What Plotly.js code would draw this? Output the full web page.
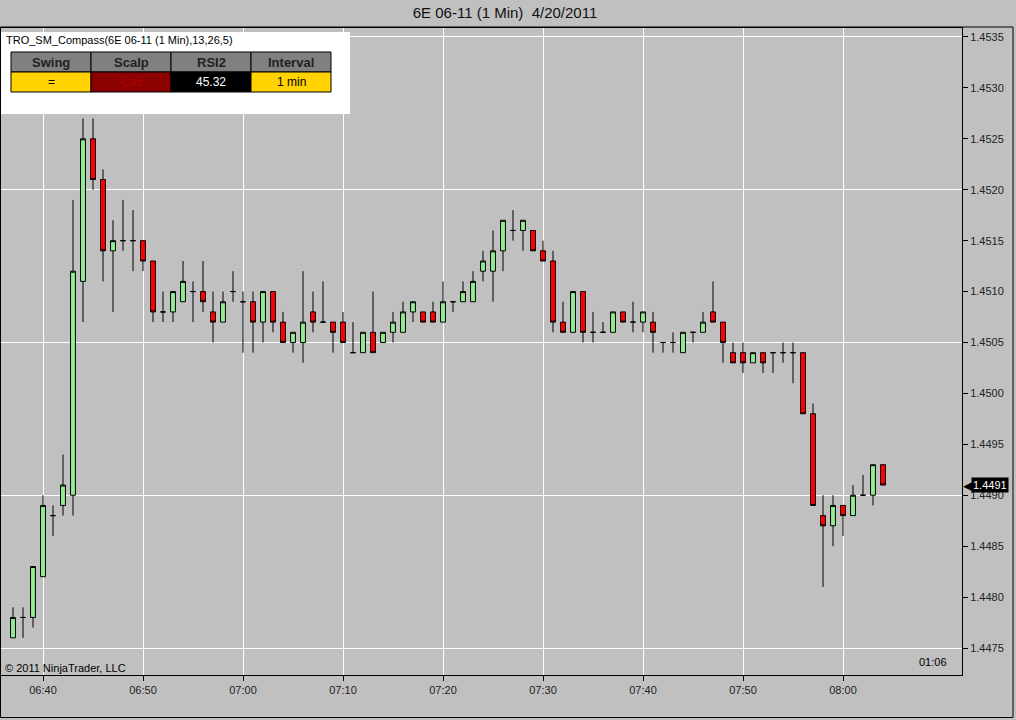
<!DOCTYPE html>
<html>
<head>
<meta charset="utf-8">
<script src="https://cdn.plot.ly/plotly-3.0.1.min.js"></script>
<style>
html,body{margin:0;padding:0;background:#c0c0c0;}
#chart{width:1016px;height:720px;}
</style>
</head>
<body>
<div id="chart"></div>
<script>
// ---- data (6E 06-11, 1 Min, 4/20/2011) ----
const times = [
 "06:37","06:38","06:39","06:40","06:41","06:42","06:43","06:44","06:45","06:46",
 "06:47","06:48","06:49","06:50","06:51","06:52","06:53","06:54","06:55","06:56",
 "06:57","06:58","06:59","07:00","07:01","07:02","07:03","07:04","07:05","07:06",
 "07:07","07:08","07:09","07:10","07:11","07:12","07:13","07:14","07:15","07:16",
 "07:17","07:18","07:19","07:20","07:21","07:22","07:23","07:24","07:25","07:26",
 "07:27","07:28","07:29","07:30","07:31","07:32","07:33","07:34","07:35","07:36",
 "07:37","07:38","07:39","07:40","07:41","07:42","07:43","07:44","07:45","07:46",
 "07:47","07:48","07:49","07:50","07:51","07:52","07:53","07:54","07:55","07:56",
 "07:57","07:58","07:59","08:00","08:01","08:02","08:03","08:04"];
const openP = [
 1.4476,1.4478,1.4478,1.4482,1.4488,1.4489,1.4490,1.4511,1.4525,1.4521,
 1.4514,1.4515,1.4515,1.4515,1.4513,1.4508,1.4508,1.4509,1.4510,1.4510,
 1.4508,1.4507,1.4510,1.4509,1.4509,1.4507,1.4510,1.4507,1.4505,1.4505,
 1.4508,1.4507,1.4507,1.4507,1.4504,1.4504,1.4506,1.4505,1.4506,1.4506,
 1.4508,1.4508,1.4508,1.4507,1.4509,1.4509,1.4509,1.4512,1.4512,1.4514,
 1.4516,1.4516,1.4516,1.4514,1.4513,1.4507,1.4506,1.4510,1.4506,1.4506,
 1.4506,1.4508,1.4507,1.4507,1.4507,1.4505,1.4505,1.4504,1.4506,1.4506,
 1.4508,1.4507,1.4504,1.4504,1.4503,1.4504,1.4504,1.4504,1.4504,1.4504,
 1.4498,1.4488,1.4487,1.4489,1.4488,1.4490,1.4490,1.4493];
const highP = [
 1.4479,1.4479,1.4483,1.4490,1.4489,1.4494,1.4519,1.4527,1.4527,1.4522,
 1.4517,1.4519,1.4518,1.4515,1.4513,1.4510,1.4510,1.4513,1.4511,1.4513,
 1.4510,1.4510,1.4512,1.4510,1.4510,1.4510,1.4510,1.4508,1.4506,1.4512,
 1.4510,1.4511,1.4507,1.4508,1.4507,1.4506,1.4510,1.4506,1.4508,1.4509,
 1.4509,1.4508,1.4509,1.4511,1.4509,1.4511,1.4512,1.4514,1.4516,1.4517,
 1.4518,1.4517,1.4516,1.4515,1.4514,1.4509,1.4510,1.4510,1.4508,1.4507,
 1.4508,1.4508,1.4509,1.4508,1.4508,1.4505,1.4506,1.4506,1.4506,1.4508,
 1.4511,1.4507,1.4505,1.4505,1.4504,1.4504,1.4504,1.4505,1.4505,1.4504,
 1.4499,1.4490,1.4490,1.4489,1.4491,1.4492,1.4493,1.4493];
const lowP = [
 1.4476,1.4476,1.4477,1.4482,1.4486,1.4488,1.4488,1.4507,1.4520,1.4511,
 1.4508,1.4514,1.4512,1.4512,1.4507,1.4507,1.4507,1.4509,1.4507,1.4508,
 1.4505,1.4507,1.4509,1.4504,1.4504,1.4505,1.4506,1.4505,1.4504,1.4503,
 1.4506,1.4507,1.4504,1.4505,1.4504,1.4504,1.4504,1.4505,1.4505,1.4506,
 1.4507,1.4507,1.4507,1.4507,1.4508,1.4509,1.4509,1.4511,1.4509,1.4512,
 1.4515,1.4514,1.4514,1.4513,1.4506,1.4506,1.4506,1.4505,1.4505,1.4506,
 1.4506,1.4507,1.4506,1.4506,1.4504,1.4504,1.4504,1.4504,1.4505,1.4506,
 1.4507,1.4503,1.4503,1.4502,1.4503,1.4502,1.4502,1.4503,1.4501,1.4498,
 1.4489,1.4481,1.4485,1.4486,1.4488,1.4490,1.4489,1.4491];
const closeP = [
 1.4478,1.4478,1.4483,1.4489,1.4488,1.4491,1.4512,1.4525,1.4521,1.4514,
 1.4515,1.4515,1.4515,1.4513,1.4508,1.4508,1.4510,1.4511,1.4510,1.4509,
 1.4507,1.4509,1.4510,1.4509,1.4507,1.4510,1.4507,1.4505,1.4506,1.4507,
 1.4507,1.4507,1.4506,1.4505,1.4504,1.4506,1.4504,1.4506,1.4507,1.4508,
 1.4509,1.4507,1.4507,1.4509,1.4509,1.4510,1.4511,1.4513,1.4514,1.4517,
 1.4516,1.4517,1.4514,1.4513,1.4507,1.4506,1.4510,1.4506,1.4506,1.4506,
 1.4508,1.4507,1.4507,1.4508,1.4506,1.4505,1.4505,1.4506,1.4506,1.4507,
 1.4507,1.4505,1.4503,1.4503,1.4504,1.4503,1.4504,1.4504,1.4504,1.4498,
 1.4489,1.4487,1.4489,1.4488,1.4490,1.4490,1.4493,1.4491];

const xTickTimes = ["06:40","06:50","07:00","07:10","07:20","07:30","07:40","07:50","08:00"];
const yTickStep = 0.0005;
const yGridStep = 0.0015;
const panelHeaders = ["Swing","Scalp","RSI2","Interval"];
const panelValues = ["=","-Cx5","45.32","1 min"];
const panelFill = ["#ffd200","#8b0000","#000000","#ffd200"];
const panelText = ["#000000","#b00000","#ffffff","#000000"];

// ---- layout helpers (pixel -> paper) ----
const L = 1, R = 962, T = 28, B = 675;
const px = x => (x - L) / (R - L);
const py = y => (B - y) / (B - T);

const day = "2011-04-20 ";
const xs = times.map(t => day + t);
const yRange = [1.447235, 1.453588];
const FONT = "Liberation Sans, Arial, sans-serif";

const candles = {
  type: "candlestick",
  x: xs, open: openP, high: highP, low: lowP, close: closeP,
  increasing: {line: {color: "#000000", width: 1}, fillcolor: "#90ee90"},
  decreasing: {line: {color: "#000000", width: 1}, fillcolor: "#ff0000"},
  whiskerwidth: 0,
  hoverinfo: "skip",
  showlegend: false
};
const axisCarrier = {
  type: "scatter", x: [xs[0]], y: [closeP[0]], yaxis: "y2",
  mode: "markers", marker: {opacity: 0}, hoverinfo: "skip", showlegend: false
};

const shapes = [];
const annotations = [];

// indicator panel
shapes.push({type: "rect", xref: "paper", yref: "paper", layer: "above",
  x0: px(0), x1: px(350), y0: py(114), y1: py(32),
  fillcolor: "#ffffff", line: {width: 0}});
annotations.push({xref: "paper", yref: "paper", x: px(4), y: py(40),
  xanchor: "left", yanchor: "middle", showarrow: false,
  text: "TRO_SM_Compass(6E 06-11 (1 Min),13,26,5)",
  font: {family: FONT, size: 11, color: "#000"}});
panelHeaders.forEach((h, i) => {
  const x0 = 11 + i * 80, x1 = x0 + 80;
  shapes.push({type: "rect", xref: "paper", yref: "paper", layer: "above",
    x0: px(x0), x1: px(x1), y0: py(72), y1: py(52),
    fillcolor: "#808080", line: {color: "#000", width: 1}});
  shapes.push({type: "rect", xref: "paper", yref: "paper", layer: "above",
    x0: px(x0), x1: px(x1), y0: py(92), y1: py(72),
    fillcolor: panelFill[i], line: {color: "#000", width: 1}});
  annotations.push({xref: "paper", yref: "paper", x: px((x0 + x1) / 2), y: py(62),
    xanchor: "center", yanchor: "middle", showarrow: false,
    text: "<b>" + h + "</b>", font: {family: FONT, size: 13, color: "#222"}});
  annotations.push({xref: "paper", yref: "paper", x: px((x0 + x1) / 2), y: py(82),
    xanchor: "center", yanchor: "middle", showarrow: false,
    text: panelValues[i], font: {family: FONT, size: 12, color: panelText[i]}});
});

// footer texts
annotations.push({xref: "paper", yref: "paper", x: px(3), y: py(668),
  xanchor: "left", yanchor: "middle", showarrow: false,
  text: "© 2011 NinjaTrader, LLC", font: {family: FONT, size: 11, color: "#000"}});
annotations.push({xref: "paper", yref: "paper", x: px(933), y: py(662),
  xanchor: "center", yanchor: "middle", showarrow: false,
  text: "01:06", font: {family: FONT, size: 11, color: "#000"}});

// last price tag
const last = closeP[closeP.length - 1];
annotations.push({xref: "paper", yref: "y", x: px(961), y: last,
  xanchor: "left", yanchor: "middle", showarrow: false,
  text: "◀", font: {family: "DejaVu Sans", size: 13, color: "#000"}});
annotations.push({xref: "paper", yref: "y", x: px(971), y: last,
  xanchor: "left", yanchor: "middle", showarrow: false,
  text: last.toFixed(4), bgcolor: "#000", borderpad: 1,
  font: {family: FONT, size: 11, color: "#fff"}});

// outer frame
shapes.push({type: "rect", xref: "paper", yref: "paper", layer: "above",
  x0: px(0.5), x1: px(1013), y0: py(717.5), y1: py(27),
  fillcolor: "rgba(0,0,0,0)", line: {color: "#000", width: 1}});

const layout = {
  width: 1016, height: 720,
  margin: {l: L, r: 1016 - R, t: T, b: 720 - B, pad: 0},
  paper_bgcolor: "#c0c0c0", plot_bgcolor: "#c0c0c0",
  font: {family: FONT, size: 11, color: "#222"},
  showlegend: false,
  boxgap: 0.3,
  title: {text: "6E 06-11 (1 Min)\u00a0\u00a04/20/2011", x: 505 / 1016, xanchor: "center",
    y: 1 - 13 / 720, yanchor: "middle", yref: "container",
    font: {family: FONT, size: 15, color: "#111"}},
  xaxis: {type: "date", range: [day + "06:35:48", day + "08:11:54"],
    tickmode: "array", tickvals: xTickTimes.map(t => day + t), ticktext: xTickTimes,
    ticks: "outside", ticklen: 5, tickcolor: "#000",
    showgrid: true, gridcolor: "#ffffff", gridwidth: 1,
    showline: true, linecolor: "#000", linewidth: 1, mirror: true,
    zeroline: false, rangeslider: {visible: false},
    tickfont: {family: FONT, size: 11, color: "#222"}, fixedrange: true},
  yaxis: {range: yRange, tick0: 1.4475, dtick: yGridStep,
    showticklabels: false, ticks: "", side: "right",
    showgrid: true, gridcolor: "#ffffff", gridwidth: 1,
    showline: true, linecolor: "#000", linewidth: 1, mirror: true,
    zeroline: false, fixedrange: true},
  yaxis2: {overlaying: "y", side: "right", range: yRange,
    tick0: 1.4475, dtick: yTickStep, tickformat: ".4f",
    ticks: "outside", ticklen: 5, tickcolor: "#000",
    showgrid: false, zeroline: false, showline: false,
    tickfont: {family: FONT, size: 11, color: "#222"}, fixedrange: true},
  shapes: shapes,
  annotations: annotations
};

Plotly.newPlot("chart", [candles, axisCarrier], layout, {staticPlot: true});
</script>
</body>
</html>
